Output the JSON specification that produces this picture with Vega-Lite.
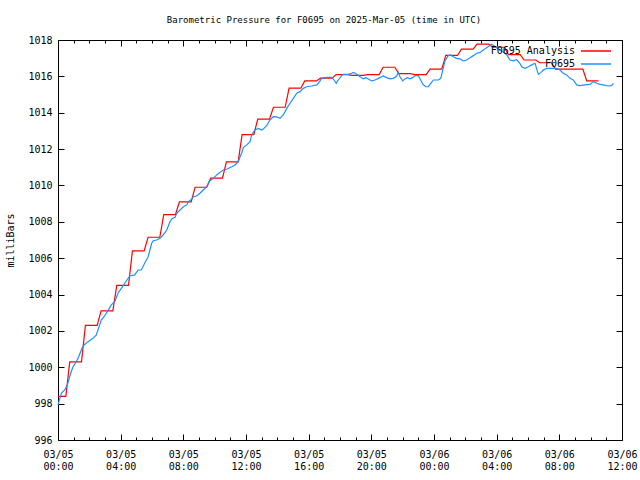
{
  "$schema": "https://vega.github.io/schema/vega-lite/v6.json",
  "width": 564,
  "height": 400,
  "autosize": {"type": "none"},
  "padding": {"left": 58, "top": 40, "right": 18, "bottom": 40},
  "background": "white",
  "title": {"text": "Barometric Pressure for F0695 on 2025-Mar-05 (time in UTC)", "font": "DejaVu Sans Mono", "fontSize": 9, "fontWeight": "normal", "color": "black", "anchor": "middle", "frame": "group", "dx": -16, "offset": 10},
  "config": {"view": {"stroke": null}, "font": "DejaVu Sans Mono"},
  "datasets": {
    "analysis": [
      {"series":"F0695 Analysis","hour":0,"mb":998.4},{"series":"F0695 Analysis","hour":0.5,"mb":998.4},
      {"series":"F0695 Analysis","hour":0.75,"mb":1000.3},{"series":"F0695 Analysis","hour":1.5,"mb":1000.3},
      {"series":"F0695 Analysis","hour":1.75,"mb":1002.3},{"series":"F0695 Analysis","hour":2.5,"mb":1002.3},
      {"series":"F0695 Analysis","hour":2.75,"mb":1003.1},{"series":"F0695 Analysis","hour":3.5,"mb":1003.1},
      {"series":"F0695 Analysis","hour":3.75,"mb":1004.5},{"series":"F0695 Analysis","hour":4.5,"mb":1004.5},
      {"series":"F0695 Analysis","hour":4.75,"mb":1006.4},{"series":"F0695 Analysis","hour":5.5,"mb":1006.4},
      {"series":"F0695 Analysis","hour":5.75,"mb":1007.15},{"series":"F0695 Analysis","hour":6.5,"mb":1007.15},
      {"series":"F0695 Analysis","hour":6.75,"mb":1008.4},{"series":"F0695 Analysis","hour":7.5,"mb":1008.4},
      {"series":"F0695 Analysis","hour":7.75,"mb":1009.1},{"series":"F0695 Analysis","hour":8.5,"mb":1009.1},
      {"series":"F0695 Analysis","hour":8.75,"mb":1009.9},{"series":"F0695 Analysis","hour":9.5,"mb":1009.9},
      {"series":"F0695 Analysis","hour":9.75,"mb":1010.4},{"series":"F0695 Analysis","hour":10.5,"mb":1010.4},
      {"series":"F0695 Analysis","hour":10.75,"mb":1011.3},{"series":"F0695 Analysis","hour":11.5,"mb":1011.3},
      {"series":"F0695 Analysis","hour":11.75,"mb":1012.8},{"series":"F0695 Analysis","hour":12.5,"mb":1012.8},
      {"series":"F0695 Analysis","hour":12.75,"mb":1013.65},{"series":"F0695 Analysis","hour":13.5,"mb":1013.65},
      {"series":"F0695 Analysis","hour":13.75,"mb":1014.3},{"series":"F0695 Analysis","hour":14.5,"mb":1014.3},
      {"series":"F0695 Analysis","hour":14.75,"mb":1015.35},{"series":"F0695 Analysis","hour":15.5,"mb":1015.35},
      {"series":"F0695 Analysis","hour":15.75,"mb":1015.75},{"series":"F0695 Analysis","hour":16.5,"mb":1015.75},
      {"series":"F0695 Analysis","hour":16.75,"mb":1015.9},{"series":"F0695 Analysis","hour":17.5,"mb":1015.9},
      {"series":"F0695 Analysis","hour":17.75,"mb":1016.1},{"series":"F0695 Analysis","hour":18.5,"mb":1016.1},
      {"series":"F0695 Analysis","hour":18.75,"mb":1016.05},{"series":"F0695 Analysis","hour":19.5,"mb":1016.05},
      {"series":"F0695 Analysis","hour":19.75,"mb":1016.1},{"series":"F0695 Analysis","hour":20.5,"mb":1016.1},
      {"series":"F0695 Analysis","hour":20.75,"mb":1016.5},{"series":"F0695 Analysis","hour":21.5,"mb":1016.5},
      {"series":"F0695 Analysis","hour":21.75,"mb":1016.15},{"series":"F0695 Analysis","hour":22.5,"mb":1016.15},
      {"series":"F0695 Analysis","hour":22.75,"mb":1016.1},{"series":"F0695 Analysis","hour":23.5,"mb":1016.1},
      {"series":"F0695 Analysis","hour":23.75,"mb":1016.4},{"series":"F0695 Analysis","hour":24.5,"mb":1016.4},
      {"series":"F0695 Analysis","hour":24.75,"mb":1017.15},{"series":"F0695 Analysis","hour":25.5,"mb":1017.15},
      {"series":"F0695 Analysis","hour":25.75,"mb":1017.5},{"series":"F0695 Analysis","hour":26.5,"mb":1017.5},
      {"series":"F0695 Analysis","hour":26.75,"mb":1017.77},{"series":"F0695 Analysis","hour":27.5,"mb":1017.77},
      {"series":"F0695 Analysis","hour":27.75,"mb":1017.6},{"series":"F0695 Analysis","hour":28.5,"mb":1017.6},
      {"series":"F0695 Analysis","hour":28.75,"mb":1017.2},{"series":"F0695 Analysis","hour":29.5,"mb":1017.2},
      {"series":"F0695 Analysis","hour":29.75,"mb":1016.9},{"series":"F0695 Analysis","hour":30.5,"mb":1016.9},
      {"series":"F0695 Analysis","hour":30.75,"mb":1016.75},{"series":"F0695 Analysis","hour":31.5,"mb":1016.75},
      {"series":"F0695 Analysis","hour":31.75,"mb":1016.4},{"series":"F0695 Analysis","hour":32.5,"mb":1016.4},
      {"series":"F0695 Analysis","hour":32.75,"mb":1016.4},{"series":"F0695 Analysis","hour":33.5,"mb":1016.4},
      {"series":"F0695 Analysis","hour":33.75,"mb":1015.75},{"series":"F0695 Analysis","hour":34.5,"mb":1015.75}
    ],
    "obs": [
      {"series":"F0695","hour":0,"mb":997.93},{"series":"F0695","hour":0.21,"mb":998.57},{"series":"F0695","hour":0.43,"mb":998.75},
      {"series":"F0695","hour":0.59,"mb":999.03},{"series":"F0695","hour":0.81,"mb":999.67},{"series":"F0695","hour":0.96,"mb":1000.03},
      {"series":"F0695","hour":1.17,"mb":1000.3},{"series":"F0695","hour":1.32,"mb":1000.58},{"series":"F0695","hour":1.53,"mb":1001.04},
      {"series":"F0695","hour":1.66,"mb":1001.23},{"series":"F0695","hour":1.92,"mb":1001.41},{"series":"F0695","hour":2.23,"mb":1001.59},
      {"series":"F0695","hour":2.45,"mb":1001.78},{"series":"F0695","hour":2.55,"mb":1002.05},{"series":"F0695","hour":2.66,"mb":1002.33},
      {"series":"F0695","hour":2.76,"mb":1002.6},{"series":"F0695","hour":2.94,"mb":1002.78},{"series":"F0695","hour":3.15,"mb":1003.06},
      {"series":"F0695","hour":3.4,"mb":1003.43},{"series":"F0695","hour":3.62,"mb":1003.61},{"series":"F0695","hour":3.83,"mb":1004.07},
      {"series":"F0695","hour":4.04,"mb":1004.34},{"series":"F0695","hour":4.26,"mb":1004.62},{"series":"F0695","hour":4.58,"mb":1005.02},
      {"series":"F0695","hour":4.9,"mb":1005.08},{"series":"F0695","hour":5.11,"mb":1005.35},{"series":"F0695","hour":5.32,"mb":1005.35},
      {"series":"F0695","hour":5.53,"mb":1005.72},{"series":"F0695","hour":5.75,"mb":1006.08},{"series":"F0695","hour":5.87,"mb":1006.45},
      {"series":"F0695","hour":5.98,"mb":1006.82},{"series":"F0695","hour":6.08,"mb":1006.96},{"series":"F0695","hour":6.3,"mb":1007.0},
      {"series":"F0695","hour":6.51,"mb":1007.09},{"series":"F0695","hour":6.72,"mb":1007.28},{"series":"F0695","hour":6.94,"mb":1007.55},
      {"series":"F0695","hour":7.15,"mb":1008.0},{"series":"F0695","hour":7.26,"mb":1008.16},{"series":"F0695","hour":7.47,"mb":1008.25},
      {"series":"F0695","hour":7.58,"mb":1008.47},{"series":"F0695","hour":7.79,"mb":1008.65},{"series":"F0695","hour":8.0,"mb":1008.83},
      {"series":"F0695","hour":8.22,"mb":1008.93},{"series":"F0695","hour":8.32,"mb":1009.11},{"series":"F0695","hour":8.53,"mb":1009.24},
      {"series":"F0695","hour":8.64,"mb":1009.38},{"series":"F0695","hour":8.85,"mb":1009.42},{"series":"F0695","hour":9.06,"mb":1009.57},
      {"series":"F0695","hour":9.27,"mb":1009.75},{"series":"F0695","hour":9.49,"mb":1009.93},{"series":"F0695","hour":9.59,"mb":1010.12},
      {"series":"F0695","hour":9.7,"mb":1010.26},{"series":"F0695","hour":9.91,"mb":1010.39},{"series":"F0695","hour":10.13,"mb":1010.58},
      {"series":"F0695","hour":10.34,"mb":1010.72},{"series":"F0695","hour":10.55,"mb":1010.85},{"series":"F0695","hour":10.77,"mb":1010.89},
      {"series":"F0695","hour":11.09,"mb":1011.03},{"series":"F0695","hour":11.3,"mb":1011.13},{"series":"F0695","hour":11.51,"mb":1011.31},
      {"series":"F0695","hour":11.62,"mb":1011.58},{"series":"F0695","hour":11.73,"mb":1011.8},{"series":"F0695","hour":11.83,"mb":1012.08},
      {"series":"F0695","hour":12.05,"mb":1012.23},{"series":"F0695","hour":12.26,"mb":1012.41},{"series":"F0695","hour":12.36,"mb":1012.78},
      {"series":"F0695","hour":12.47,"mb":1012.92},{"series":"F0695","hour":12.57,"mb":1013.05},{"series":"F0695","hour":12.79,"mb":1013.14},
      {"series":"F0695","hour":13.0,"mb":1013.05},{"series":"F0695","hour":13.1,"mb":1013.1},{"series":"F0695","hour":13.32,"mb":1013.29},
      {"series":"F0695","hour":13.53,"mb":1013.6},{"series":"F0695","hour":13.74,"mb":1013.78},{"series":"F0695","hour":13.96,"mb":1013.77},
      {"series":"F0695","hour":14.17,"mb":1013.69},{"series":"F0695","hour":14.38,"mb":1013.88},{"series":"F0695","hour":14.6,"mb":1014.24},
      {"series":"F0695","hour":14.81,"mb":1014.52},{"series":"F0695","hour":15.02,"mb":1014.79},{"series":"F0695","hour":15.24,"mb":1015.07},
      {"series":"F0695","hour":15.45,"mb":1015.16},{"series":"F0695","hour":15.66,"mb":1015.34},{"series":"F0695","hour":15.87,"mb":1015.43},
      {"series":"F0695","hour":16.19,"mb":1015.47},{"series":"F0695","hour":16.51,"mb":1015.53},{"series":"F0695","hour":16.62,"mb":1015.62},
      {"series":"F0695","hour":16.83,"mb":1015.89},{"series":"F0695","hour":17.15,"mb":1015.94},{"series":"F0695","hour":17.47,"mb":1015.94},
      {"series":"F0695","hour":17.62,"mb":1015.8},{"series":"F0695","hour":17.76,"mb":1015.62},{"series":"F0695","hour":17.89,"mb":1015.8},
      {"series":"F0695","hour":18.11,"mb":1016.04},{"series":"F0695","hour":18.21,"mb":1016.11},{"series":"F0695","hour":18.53,"mb":1016.11},
      {"series":"F0695","hour":18.75,"mb":1016.17},{"series":"F0695","hour":18.85,"mb":1016.22},{"series":"F0695","hour":18.96,"mb":1016.17},
      {"series":"F0695","hour":19.07,"mb":1016.11},{"series":"F0695","hour":19.28,"mb":1015.98},{"series":"F0695","hour":19.49,"mb":1015.86},
      {"series":"F0695","hour":19.66,"mb":1015.93},{"series":"F0695","hour":19.81,"mb":1015.86},{"series":"F0695","hour":20.02,"mb":1015.75},
      {"series":"F0695","hour":20.23,"mb":1015.8},{"series":"F0695","hour":20.45,"mb":1015.89},{"series":"F0695","hour":20.66,"mb":1015.98},
      {"series":"F0695","hour":20.76,"mb":1016.02},{"series":"F0695","hour":20.98,"mb":1015.93},{"series":"F0695","hour":21.19,"mb":1015.86},
      {"series":"F0695","hour":21.4,"mb":1015.89},{"series":"F0695","hour":21.62,"mb":1016.02},{"series":"F0695","hour":21.72,"mb":1016.22},
      {"series":"F0695","hour":21.83,"mb":1015.98},{"series":"F0695","hour":22.0,"mb":1015.75},{"series":"F0695","hour":22.15,"mb":1015.86},
      {"series":"F0695","hour":22.3,"mb":1015.93},{"series":"F0695","hour":22.47,"mb":1015.86},{"series":"F0695","hour":22.64,"mb":1015.93},
      {"series":"F0695","hour":22.79,"mb":1016.04},{"series":"F0695","hour":23.0,"mb":1016.04},{"series":"F0695","hour":23.15,"mb":1015.8},
      {"series":"F0695","hour":23.3,"mb":1015.55},{"series":"F0695","hour":23.49,"mb":1015.43},{"series":"F0695","hour":23.64,"mb":1015.43},
      {"series":"F0695","hour":23.75,"mb":1015.56},{"series":"F0695","hour":23.96,"mb":1015.8},{"series":"F0695","hour":24.28,"mb":1015.8},
      {"series":"F0695","hour":24.43,"mb":1015.89},{"series":"F0695","hour":24.56,"mb":1016.35},{"series":"F0695","hour":24.7,"mb":1016.85},
      {"series":"F0695","hour":24.91,"mb":1017.14},{"series":"F0695","hour":25.07,"mb":1017.18},{"series":"F0695","hour":25.23,"mb":1017.08},
      {"series":"F0695","hour":25.45,"mb":1016.99},{"series":"F0695","hour":25.66,"mb":1016.96},{"series":"F0695","hour":25.87,"mb":1016.85},
      {"series":"F0695","hour":26.09,"mb":1016.9},{"series":"F0695","hour":26.3,"mb":1017.03},{"series":"F0695","hour":26.51,"mb":1017.14},
      {"series":"F0695","hour":26.73,"mb":1017.27},{"series":"F0695","hour":26.94,"mb":1017.32},{"series":"F0695","hour":27.15,"mb":1017.45},
      {"series":"F0695","hour":27.36,"mb":1017.58},{"series":"F0695","hour":27.57,"mb":1017.69},{"series":"F0695","hour":27.68,"mb":1017.77},
      {"series":"F0695","hour":27.89,"mb":1017.64},{"series":"F0695","hour":28.1,"mb":1017.51},{"series":"F0695","hour":28.32,"mb":1017.4},
      {"series":"F0695","hour":28.53,"mb":1017.27},{"series":"F0695","hour":28.68,"mb":1017.14},{"series":"F0695","hour":28.85,"mb":1016.9},
      {"series":"F0695","hour":29.06,"mb":1016.85},{"series":"F0695","hour":29.28,"mb":1016.92},{"series":"F0695","hour":29.49,"mb":1016.7},
      {"series":"F0695","hour":29.6,"mb":1016.53},{"series":"F0695","hour":29.81,"mb":1016.44},{"series":"F0695","hour":30.02,"mb":1016.53},
      {"series":"F0695","hour":30.24,"mb":1016.63},{"series":"F0695","hour":30.45,"mb":1016.72},{"series":"F0695","hour":30.66,"mb":1016.11},
      {"series":"F0695","hour":30.83,"mb":1016.22},{"series":"F0695","hour":30.98,"mb":1016.35},{"series":"F0695","hour":31.19,"mb":1016.44},
      {"series":"F0695","hour":31.83,"mb":1016.44},{"series":"F0695","hour":32.04,"mb":1016.35},{"series":"F0695","hour":32.25,"mb":1016.17},
      {"series":"F0695","hour":32.47,"mb":1016.08},{"series":"F0695","hour":32.68,"mb":1015.89},{"series":"F0695","hour":32.89,"mb":1015.8},
      {"series":"F0695","hour":33.11,"mb":1015.53},{"series":"F0695","hour":33.32,"mb":1015.49},{"series":"F0695","hour":33.64,"mb":1015.53},
      {"series":"F0695","hour":33.96,"mb":1015.56},{"series":"F0695","hour":34.17,"mb":1015.71},{"series":"F0695","hour":34.39,"mb":1015.62},
      {"series":"F0695","hour":34.6,"mb":1015.56},{"series":"F0695","hour":34.81,"mb":1015.53},{"series":"F0695","hour":35.13,"mb":1015.47},
      {"series":"F0695","hour":35.34,"mb":1015.49},{"series":"F0695","hour":35.45,"mb":1015.62}
    ]
  },
  "layer": [
    {
      "data": {"name": "analysis"},
      "mark": {"type": "line", "strokeWidth": 1.2},
      "encoding": {
        "x": {"field": "hour", "type": "quantitative",
          "scale": {"domain": [0, 36], "nice": false, "zero": false},
          "axis": {"orient": "bottom", "title": null, "grid": false,
            "values": [0,1,2,3,4,5,6,7,8,9,10,11,12,13,14,15,16,17,18,19,20,21,22,23,24,25,26,27,28,29,30,31,32,33,34,35,36],
            "labelExpr": "datum.value % 4 == 0 ? [datum.value < 24 ? '03/05' : '03/06', (datum.value % 24 < 10 ? '0' : '') + (datum.value % 24) + ':00'] : ''",
            "labelOverlap": false, "labelFlush": false, "labelBound": false,
            "tickSize": {"condition": {"test": "datum.value % 4 == 0", "value": -6}, "value": -3},
            "labelPadding": 15, "labelLineHeight": 12, "labelFont": "DejaVu Sans Mono", "labelFontSize": 10, "labelColor": "black",
            "tickColor": "black", "domainColor": "black", "domainWidth": 1, "tickWidth": 1}},
        "y": {"field": "mb", "type": "quantitative",
          "scale": {"domain": [996, 1018], "nice": false, "zero": false},
          "axis": {"orient": "left", "title": "milliBars", "grid": false, "format": "d",
            "values": [996,998,1000,1002,1004,1006,1008,1010,1012,1014,1016,1018],
            "tickSize": -6, "labelPadding": 12, "labelFont": "DejaVu Sans Mono", "labelFontSize": 10, "labelColor": "black",
            "tickColor": "black", "domainColor": "black", "domainWidth": 1, "tickWidth": 1,
            "titleFont": "DejaVu Sans Mono", "titleFontSize": 10, "titleFontWeight": "normal", "titleColor": "black",
            "titleX": -48, "titleY": 200, "titleAngle": -90, "titleAlign": "center", "titleBaseline": "middle"}},
        "color": {"field": "series", "type": "nominal",
          "scale": {"domain": ["F0695 Analysis", "F0695"], "range": ["#ff0000", "#1e90ff"]},
          "legend": {"orient": "none", "legendX": 532, "legendY": 5, "title": null, "symbolType": "M-3,0H3", "symbolSize": 100,
            "symbolStrokeWidth": 1.5, "labelAlign": "right", "labelOffset": -27, "labelFont": "DejaVu Sans Mono", "labelFontSize": 10,
            "labelColor": "black", "rowPadding": 2, "padding": 0, "direction": "vertical"}}
      }
    },
    {
      "data": {"name": "obs"},
      "mark": {"type": "line", "strokeWidth": 1.2},
      "encoding": {
        "x": {"field": "hour", "type": "quantitative",
          "axis": {"orient": "top", "title": null, "grid": false, "labels": false,
            "values": [0,1,2,3,4,5,6,7,8,9,10,11,12,13,14,15,16,17,18,19,20,21,22,23,24,25,26,27,28,29,30,31,32,33,34,35,36],
            "tickSize": {"condition": {"test": "datum.value % 4 == 0", "value": -6}, "value": -3},
            "tickColor": "black", "domainColor": "black", "domainWidth": 1, "tickWidth": 1}},
        "y": {"field": "mb", "type": "quantitative",
          "axis": {"orient": "right", "title": null, "grid": false, "labels": false,
            "values": [996,998,1000,1002,1004,1006,1008,1010,1012,1014,1016,1018],
            "tickSize": -6, "tickColor": "black", "domainColor": "black", "domainWidth": 1, "tickWidth": 1}},
        "color": {"field": "series", "type": "nominal"}
      }
    }
  ],
  "resolve": {"axis": {"x": "independent", "y": "independent"}}
}
